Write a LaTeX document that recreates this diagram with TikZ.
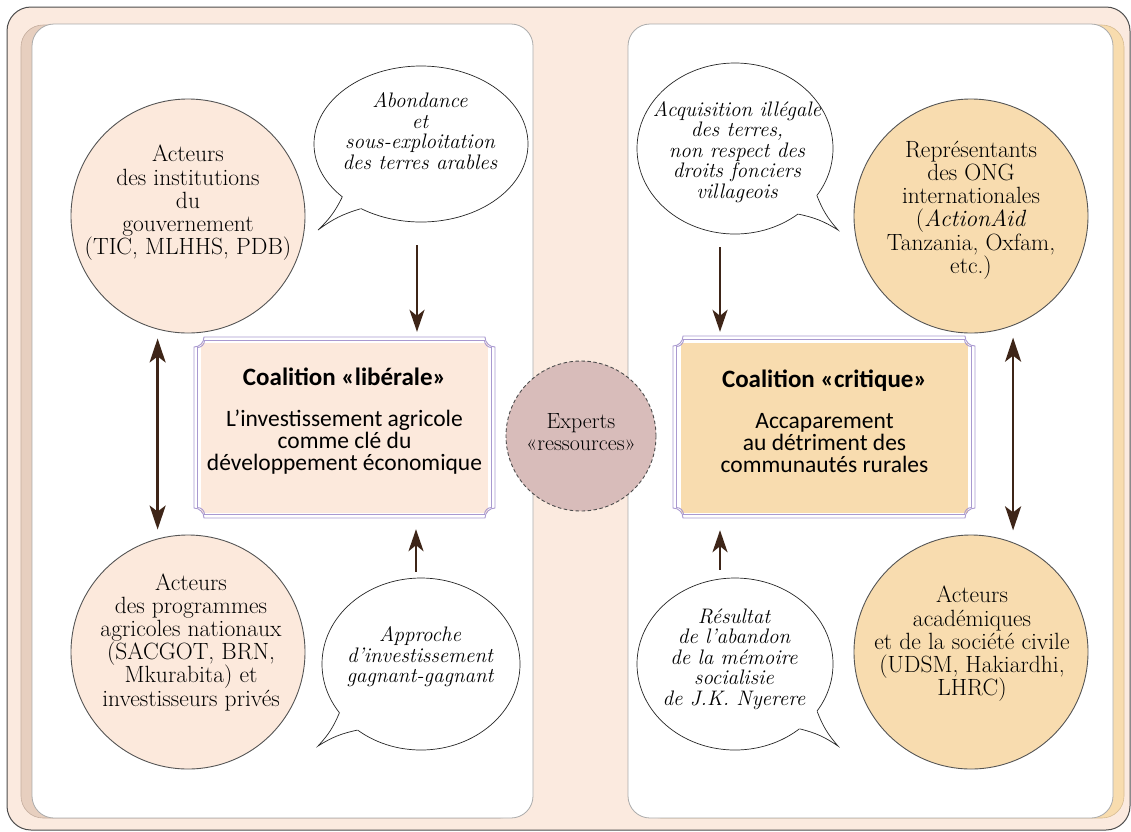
\documentclass[tikz,border=0pt]{standalone}
\usepackage{fontspec}
\newfontfamily\carl{Carlito}
\usetikzlibrary{arrows.meta,calc,shapes.geometric}
\definecolor{outerbg}{HTML}{FBEADF}
\definecolor{outerln}{HTML}{4D4D4D}
\definecolor{lshadow}{HTML}{E7CFBF}
\definecolor{lshadowln}{HTML}{C4AD9E}
\definecolor{rshadow}{HTML}{F8DCAE}
\definecolor{rshadowln}{HTML}{D6BC92}
\definecolor{panelln}{HTML}{ABABAB}
\definecolor{peach}{HTML}{FCE9DC}
\definecolor{sand}{HTML}{F8DCAF}
\definecolor{rose}{HTML}{D8BCBA}
\definecolor{lav}{HTML}{A999D0}
\definecolor{brownarr}{HTML}{3E2518}
\definecolor{circln}{HTML}{555555}
\newcommand\tightls{\lineskiplimit-50pt\relax}
\newcommand\cframe[5]{%
  \draw[frameline] (#1+#5,#2) -- (#3-#5,#2) arc[start angle=180,end angle=90,radius=#5]
   -- (#3,#4-#5) arc[start angle=270,end angle=180,radius=#5]
   -- (#1+#5,#4) arc[start angle=0,end angle=-90,radius=#5]
   -- (#1,#2+#5) arc[start angle=90,end angle=0,radius=#5] -- cycle;}
\begin{document}
\begin{tikzpicture}[x=1pt,y=-1pt,
  frameline/.style={draw=lav,line width=0.9pt},
  lcirc/.style={circle,minimum size=234pt,inner sep=0pt,fill=peach,draw=circln,line width=0.9pt},
  rcirc/.style={circle,minimum size=234pt,inner sep=0pt,fill=sand,draw=circln,line width=0.9pt},
  ctext/.style={align=center,inner sep=0pt,font=\fontsize{23.5}{23.2}\selectfont\tightls},
  bubble/.style={ellipse,inner sep=0pt,fill=white,draw=black!85,line width=0.7pt},
  btext/.style={align=center,inner sep=0pt,font=\itshape\fontsize{21}{20.5}\selectfont\tightls},
  tailline/.style={draw=black!85,line width=0.7pt},
  cobox/.style={rectangle,minimum width=287pt,minimum height=170pt,inner sep=0pt},
  cotext/.style={align=center,inner sep=0pt,font=\carl\fontsize{23.5}{22}\selectfont\tightls},
  arr/.style={draw=brownarr,line width=2.6pt,-{Stealth[length=22pt,width=15pt,inset=6pt]}},
  darr/.style={draw=brownarr,line width=2.6pt,{Stealth[length=24pt,width=16pt,inset=6pt]}-{Stealth[length=24pt,width=16pt,inset=6pt]}},
  expc/.style={circle,minimum size=150pt,inner sep=0pt,fill=rose,draw=outerln,line width=0.9pt,dash pattern=on 3.5pt off 2.5pt},
  extext/.style={align=center,inner sep=0pt,font=\fontsize{22}{22}\selectfont\tightls}
]
\useasboundingbox (0,0) rectangle (1131,831);
% background frame and panels
\draw[fill=outerbg,draw=outerln,line width=1pt,rounded corners=24pt] (7,7) rectangle (1130,830);
\draw[fill=lshadow,draw=lshadowln,line width=0.6pt,rounded corners=22pt] (21,25) rectangle (522,818);
\draw[fill=white,draw=panelln,line width=0.8pt,rounded corners=22pt] (32,24) rectangle (533,818);
\draw[fill=rshadow,draw=rshadowln,line width=0.6pt,rounded corners=22pt] (639,25) rectangle (1124,818);
\draw[fill=white,draw=panelln,line width=0.8pt,rounded corners=22pt] (628,24) rectangle (1113,818);

% actor circles
\node[lcirc] (c1) at (188,216) {};
\node[ctext] (t1) at (188,203) {Acteurs\\des institutions\\du\\gouvernement\\(TIC, MLHHS, PDB)};
\node[lcirc] (c2) at (188,652) {};
\node[ctext] (t2) at (191,642) {Acteurs\\des programmes\\agricoles nationaux\\(SACGOT, BRN,\\Mkurabita) et\\investisseurs privés};
\node[rcirc] (c3) at (971,216) {};
\node[ctext] (t3) at (971,210) {Représentants\\des ONG\\internationales\\(\textit{ActionAid}\\Tanzania, Oxfam,\\etc.)};
\node[rcirc] (c4) at (971,652) {};
\node[ctext] (t4) at (972,644) {Acteurs\\académiques\\et de la société civile\\(UDSM, Hakiardhi,\\LHRC)};

% speech bubbles
\node[bubble,minimum width=214pt,minimum height=156pt] (bub1) at (421,144) {};
\coordinate (tip1) at (318,230);
\fill[white] (bub1.214) -- (tip1) -- (bub1.227) -- (bub1.center) -- cycle;
\draw[tailline] (bub1.214) to[bend left=10] (tip1) to[bend left=10] (bub1.227);
\node[btext] (bt1) at (420,131) {Abondance\\et\\sous-exploitation\\des terres arables};

\node[bubble,minimum width=198pt,minimum height=172pt] (bub2) at (421,664) {};
\coordinate (tip2) at (318,746);
\fill[white] (bub2.211) -- (tip2) -- (bub2.226) -- (bub2.center) -- cycle;
\draw[tailline] (bub2.211) to[bend left=10] (tip2) to[bend left=10] (bub2.226);
\node[btext] (bt2) at (420,657) {Approche\\d’investissement\\gagnant-gagnant};

\node[bubble,minimum width=196pt,minimum height=171pt] (bub3) at (735,148.5) {};
\coordinate (tip3) at (838,230);
\fill[white] (bub3.330) -- (tip3) -- (bub3.314) -- (bub3.center) -- cycle;
\draw[tailline] (bub3.330) to[bend right=10] (tip3) to[bend right=10] (bub3.314);
\node[btext] (bt3) at (737,152) {Acquisition illégale\\des terres,\\non respect des\\droits fonciers\\villageois};

\node[bubble,minimum width=196pt,minimum height=172pt] (bub4) at (735,664) {};
\coordinate (tip4) at (838,746);
\fill[white] (bub4.330) -- (tip4) -- (bub4.315) -- (bub4.center) -- cycle;
\draw[tailline] (bub4.330) to[bend right=10] (tip4) to[bend right=10] (bub4.315);
\node[btext] (bt4) at (734,659) {Résultat\\de l’abandon\\de la mémoire\\socialisie\\de J.K. Nyerere};

% coalition boxes
\node[cobox,fill=peach] (lfill) at (344.5,428) {};
\cframe{194}{337}{495}{518}{10}
\cframe{197.5}{340.5}{491.5}{514.5}{7}
\node[cotext] (ltxt) at (344.5,421) {{\bfseries\fontsize{25}{22}\selectfont Coalition «libérale»}\\[19pt]L’investissement agricole\\comme clé du\\développement économique};

\node[cobox,fill=sand] (rfill) at (824.5,428) {};
\cframe{673}{336}{975}{518}{10}
\cframe{676.5}{339.5}{971.5}{514.5}{7}
\node[cotext] (rtxt) at (824.5,421) {{\bfseries\fontsize{25}{22}\selectfont Coalition «critique»}\\[19pt]Accaparement\\au détriment des\\communautés rurales};

% arrows
\draw[arr,shorten <=23pt,shorten >=11pt] ($(bub1.south)+(-4,0)$) -- ($(bub1.south |- lfill.north)+(-4,0)$);
\draw[arr,shorten <=13pt,shorten >=11pt] ($(bub3.south)+(-15,0)$) -- ($(bub3.south |- rfill.north)+(-15,0)$);
\draw[arr,shorten <=6pt,shorten >=16pt] ($(bub2.north)+(-5,0)$) -- ($(bub2.north |- lfill.south)+(-5,0)$);
\draw[arr,shorten <=8pt,shorten >=17pt] ($(bub4.north)+(-15,0)$) -- ($(bub4.north |- rfill.south)+(-15,0)$);
\draw[darr,shorten <=9pt,shorten >=9pt] (c1.-105) -- (c2.105);
\draw[darr,shorten <=12pt,shorten >=12pt] (c3.-69.5) -- (c4.69.5);

% experts
\node[expc] (ex) at (581,436) {};
\node[extext] (ext) at (581,432) {Experts\\«ressources»};
\end{tikzpicture}
\end{document}
